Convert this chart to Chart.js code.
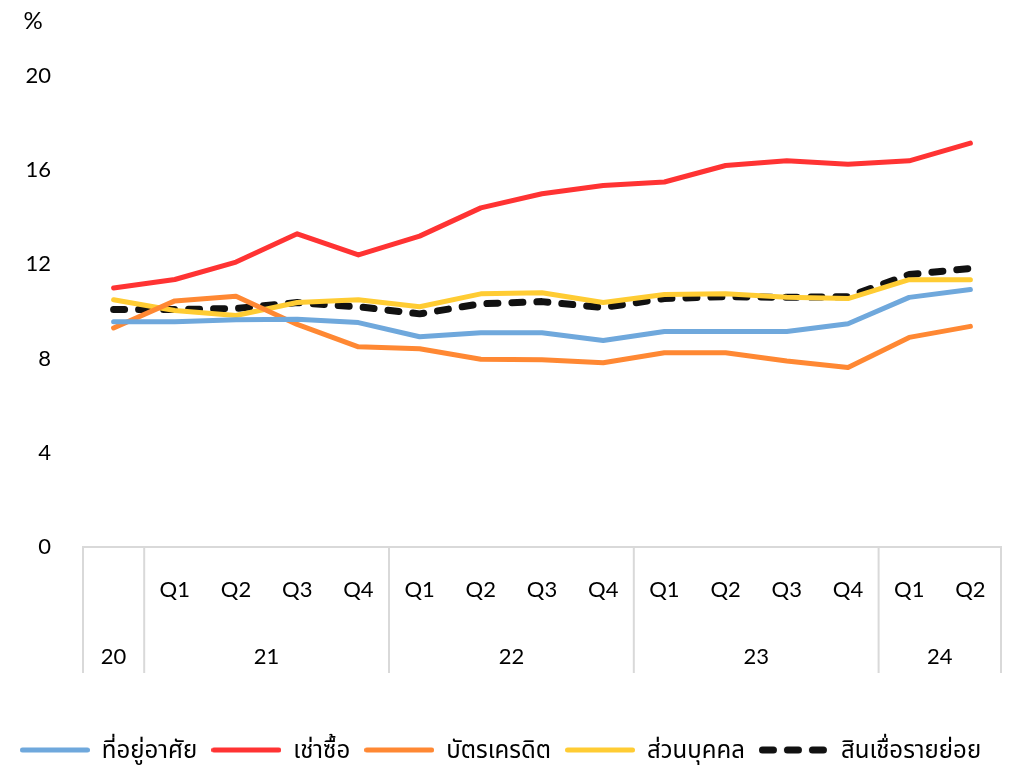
<!DOCTYPE html>
<html>
<head>
<meta charset="utf-8">
<script src="https://cdn.jsdelivr.net/npm/chart.js@4.4.1/dist/chart.umd.min.js"></script>
<style>
  html, body { margin: 0; padding: 0; background: #fff; }
  #wrap { width: 1035px; height: 766px; }
</style>
</head>
<body>
<div id="wrap"><canvas id="chart1"></canvas></div>
<script>
const quarters = ['', 'Q1', 'Q2', 'Q3', 'Q4', 'Q1', 'Q2', 'Q3', 'Q4', 'Q1', 'Q2', 'Q3', 'Q4', 'Q1', 'Q2'];
const years = ['20', '21', '21', '21', '21', '22', '22', '22', '22', '23', '23', '23', '23', '24', '24'];

// % growth
const housing = [9.57, 9.57, 9.65, 9.67, 9.53, 8.93, 9.1, 9.1, 8.77, 9.15, 9.15, 9.15, 9.48, 10.6, 10.93];
const hirePurchase = [11.0, 11.36, 12.1, 13.3, 12.4, 13.2, 14.4, 15.0, 15.35, 15.5, 16.2, 16.4, 16.25, 16.4, 17.15];
const creditCard = [9.3, 10.45, 10.65, 9.45, 8.5, 8.42, 7.97, 7.95, 7.82, 8.25, 8.25, 7.9, 7.62, 8.9, 9.37];
const personal = [10.5, 10.04, 9.83, 10.38, 10.5, 10.2, 10.75, 10.8, 10.38, 10.72, 10.75, 10.6, 10.55, 11.35, 11.35];
const retail = [10.08, 10.08, 10.13, 10.38, 10.2, 9.9, 10.33, 10.42, 10.17, 10.55, 10.63, 10.6, 10.63, 11.57, 11.83];

const FONT = 'Lato, "Noto Sans Thai", "Noto Sans", sans-serif';
const GRID = '#d9d9d9';
const SWATCH = 70;

// year row + separators under the quarter labels
const yearAxis = {
    id: 'yearAxis',
    afterDraw(chart) {
        const ctx = chart.ctx;
        const x = chart.scales.x;
        const area = chart.chartArea;
        const top = area.bottom;
        const bottom = top + 126;
        const n = years.length;
        const edge = (i) => {
            if (i === 0) return area.left;
            if (i === n) return area.right;
            return (x.getPixelForValue(i - 1) + x.getPixelForValue(i)) / 2;
        };
        ctx.save();
        ctx.strokeStyle = GRID;
        ctx.lineWidth = 2;
        ctx.fillStyle = '#000';
        ctx.font = '22px ' + FONT;
        ctx.textAlign = 'center';
        ctx.textBaseline = 'middle';
        let start = 0;
        for (let i = 1; i <= n; i++) {
            if (i === n || years[i] !== years[start]) {
                const a = edge(start), b = edge(i);
                ctx.beginPath();
                ctx.moveTo(a, top);
                ctx.lineTo(a, bottom);
                ctx.stroke();
                ctx.fillText(years[start], (a + b) / 2, top + 110);
                start = i;
            }
        }
        const r = edge(n);
        ctx.beginPath();
        ctx.moveTo(r, top);
        ctx.lineTo(r, bottom);
        ctx.stroke();
        // unit label
        ctx.font = '24px ' + FONT;
        ctx.fillText('%', 33, 21);
        ctx.restore();
    }
};

// legend swatch drawn on a small canvas so the dash shows properly
function swatch(ds) {
    const c = document.createElement('canvas');
    c.width = SWATCH;
    c.height = 10;
    const g = c.getContext('2d');
    const w = ds.borderWidth;
    g.strokeStyle = ds.borderColor;
    g.lineWidth = w;
    g.lineCap = 'round';
    g.setLineDash(ds.borderDash || []);
    g.beginPath();
    g.moveTo(w / 2, 5);
    g.lineTo(SWATCH - w / 2, 5);
    g.stroke();
    return c;
}

function line(label, data, color, extra) {
    return Object.assign({
        label: label,
        data: data,
        borderColor: color,
        backgroundColor: color,
        borderWidth: 5,
        pointRadius: 0,
        tension: 0,
        borderCapStyle: 'round',
        borderJoinStyle: 'round',
    }, extra || {});
}

new Chart(document.getElementById('chart1'), {
    type: 'line',
    data: {
        labels: quarters,
        datasets: [
            line('ที่อยู่อาศัย', housing, '#6fa8dc'),
            line('เช่าซื้อ', hirePurchase, '#ff3333'),
            line('บัตรเครดิต', creditCard, '#ff8833'),
            line('ส่วนบุคคล', personal, '#ffcc33'),
            line('สินเชื่อรายย่อย', retail, '#111111', { borderWidth: 7, borderDash: [11, 14] }),
        ]
    },
    options: {
        responsive: true,
        maintainAspectRatio: false,
        animation: false,
        layout: { padding: { top: 76, right: 34, left: 0, bottom: -6 } },
        scales: {
            x: {
                offset: true,
                grid: { display: false, drawTicks: false },
                border: { display: true, color: GRID, width: 2 },
                ticks: { color: '#000', font: { family: FONT, size: 22 }, padding: 30, maxRotation: 0, autoSkip: false },
                afterFit(scale) { scale.height = 177; }
            },
            y: {
                min: 0,
                max: 20,
                grid: { display: false, drawTicks: false },
                border: { display: false },
                ticks: { stepSize: 4, color: '#000', font: { family: FONT, size: 22 }, padding: 32 },
                afterFit(scale) { scale.width = 83; }
            }
        },
        plugins: {
            legend: {
                position: 'bottom',
                labels: {
                    usePointStyle: true,
                    pointStyleWidth: SWATCH,
                    color: '#000',
                    font: { family: FONT, size: 24 },
                    padding: 14,
                    generateLabels(chart) {
                        const items = Chart.defaults.plugins.legend.labels.generateLabels(chart);
                        items.forEach((it) => { it.pointStyle = swatch(chart.data.datasets[it.datasetIndex]); });
                        return items;
                    }
                }
            },
            tooltip: { enabled: false }
        }
    },
    plugins: [yearAxis]
});
</script>
</body>
</html>
